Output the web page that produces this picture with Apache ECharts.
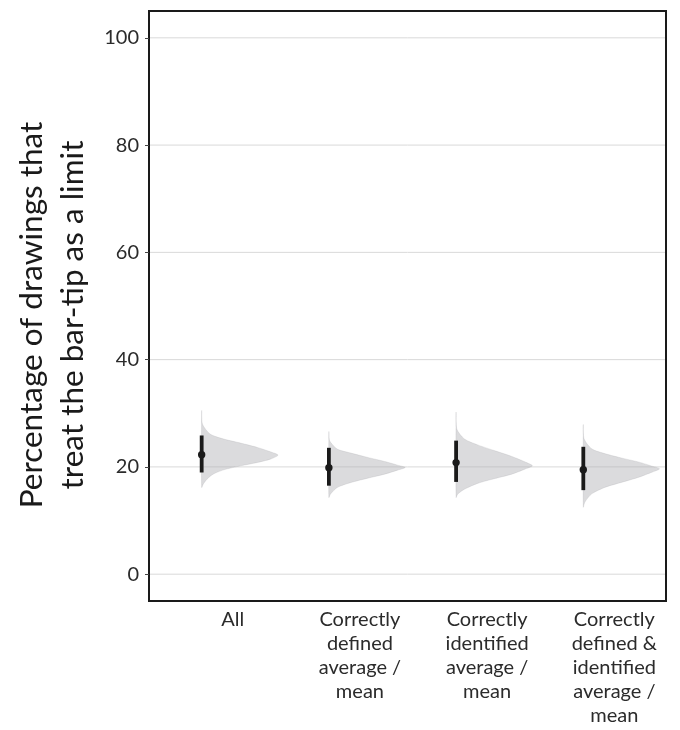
<!DOCTYPE html>
<html><head><meta charset="utf-8">
<script src="https://cdn.jsdelivr.net/npm/echarts@6/dist/echarts.min.js"></script>
<style>html,body{margin:0;padding:0;background:#fff}#chart{width:680px;height:730px}</style>
</head><body><div id="chart"></div>
<script>
// ---- data ----
const categories = [
  'All',
  'Correctly\ndefined\naverage /\nmean',
  'Correctly\nidentified\naverage /\nmean',
  'Correctly\ndefined &\nidentified\naverage /\nmean'
];
const means = [22.26, 19.83, 20.8, 19.46];
const lower = [18.96, 16.5, 17.2, 15.67];
const upper = [25.86, 23.56, 24.9, 23.75];
const yTicks = [0, 20, 40, 60, 80, 100];
// slab profiles: [value, relative density], top to bottom
const slabAll = [[30.47,0],[27.99,0.01],[26.12,0.11],[25.19,0.29],[24.44,0.51],[23.63,0.73],[22.82,0.90],[22.2,1],[21.45,0.90],[20.83,0.73],[20.2,0.51],[19.46,0.29],[18.65,0.15],[17.72,0.07],[16.79,0.02],[16.17,0]];
const slabDefined = [[26.55,0],[24.87,0.01],[23.32,0.11],[22.57,0.29],[21.76,0.51],[21.02,0.73],[20.33,0.90],[19.89,1],[19.4,0.90],[18.65,0.73],[17.9,0.51],[17.1,0.29],[16.17,0.11],[14.92,0.02],[14.3,0]];
const slabIdentified = [[30.16,0],[27.05,0.01],[25.19,0.11],[24.06,0.29],[23.0,0.51],[21.95,0.73],[20.95,0.90],[20.2,1],[19.58,0.90],[18.65,0.73],[17.84,0.51],[16.97,0.29],[15.85,0.11],[14.92,0.02],[14.3,0]];
const slabBoth = [[27.85,0],[25.24,0.01],[23.37,0.11],[22.44,0.29],[21.63,0.51],[20.89,0.73],[20.14,0.90],[19.64,1],[19.02,0.90],[18.09,0.73],[17.16,0.51],[16.23,0.29],[14.98,0.11],[13.43,0.02],[12.5,0]];
const profiles = [slabAll, slabDefined, slabIdentified, slabBoth];

// ---- layout constants ----
const dodge = -0.244;
const slabW = 0.6;
const FONT = 'Lato';

const chart = echarts.init(document.getElementById('chart'), null, {renderer: 'canvas'});

const slabData = categories.map((c, i) => [i + 1 + dodge, means[i], i]);
const option = {
  animation: false,
  grid: {left: 149, right: 14, top: 11, bottom: 129, show: true, borderColor: '#1a1a1a', borderWidth: 2, backgroundColor: 'transparent'},
  xAxis: {
    type: 'value', min: 0.342, max: 4.406,
    axisLine: {show: false}, axisTick: {show: false}, splitLine: {show: false},
    axisLabel: {
      customValues: [1, 2, 3, 4],
      formatter: v => categories[Math.round(v) - 1] || '',
      fontFamily: FONT, fontSize: 20, lineHeight: 24, color: '#2b2b2b', margin: 7, align: 'center'
    }
  },
  yAxis: {
    type: 'value', min: -5, max: 105,
    axisLine: {show: false},
    axisTick: {show: true, customValues: yTicks, length: 4, lineStyle: {color: '#444', width: 1}},
    splitLine: {show: false},
    axisLabel: {customValues: yTicks, fontFamily: FONT, fontSize: 20, color: '#2b2b2b', margin: 10}
  },
  graphic: [{
    type: 'text', x: 52, y: 315, rotation: Math.PI / 2,
    style: {
      text: 'Percentage of drawings that\ntreat the bar-tip as a limit',
      fontFamily: FONT, fontSize: 31.5, lineHeight: 41, fill: '#1a1a1a',
      align: 'center', verticalAlign: 'middle'
    }
  }],
  series: [
    {
      type: 'custom', z: 1, silent: true,
      data: yTicks.map(t => [1, t]),
      renderItem: function (params, api) {
        const y = api.coord([1, api.value(1)])[1];
        const cs = params.coordSys;
        return {type: 'line', shape: {x1: cs.x + 1, y1: y, x2: cs.x + cs.width - 1, y2: y},
          style: {stroke: '#d9d9d9', lineWidth: 1}};
      }
    },
    {
      type: 'custom', z: 2, silent: true,
      data: slabData,
      renderItem: function (params, api) {
        const i = api.value(2);
        const x0 = api.value(0);
        const pts = profiles[i].map(p => api.coord([x0 + p[1] * slabW, p[0]]));
        return {type: 'polygon', shape: {points: pts, smooth: 0.25},
          style: {fill: 'rgba(175,175,180,0.45)', stroke: 'rgba(160,160,165,0.35)', lineWidth: 0.6}};
      }
    },
    {
      type: 'custom', z: 3, silent: true,
      data: slabData,
      renderItem: function (params, api) {
        const i = api.value(2);
        const x0 = api.value(0);
        const a = api.coord([x0, upper[i]]);
        const b = api.coord([x0, lower[i]]);
        const m = api.coord([x0, means[i]]);
        return {type: 'group', children: [
          {type: 'line', shape: {x1: a[0], y1: a[1], x2: b[0], y2: b[1]}, style: {stroke: '#1a1a1a', lineWidth: 3.8}},
          {type: 'circle', shape: {cx: m[0], cy: m[1], r: 3.7}, style: {fill: '#1a1a1a'}}
        ]};
      }
    }
  ]
};
chart.setOption(option);
</script>
</body></html>
